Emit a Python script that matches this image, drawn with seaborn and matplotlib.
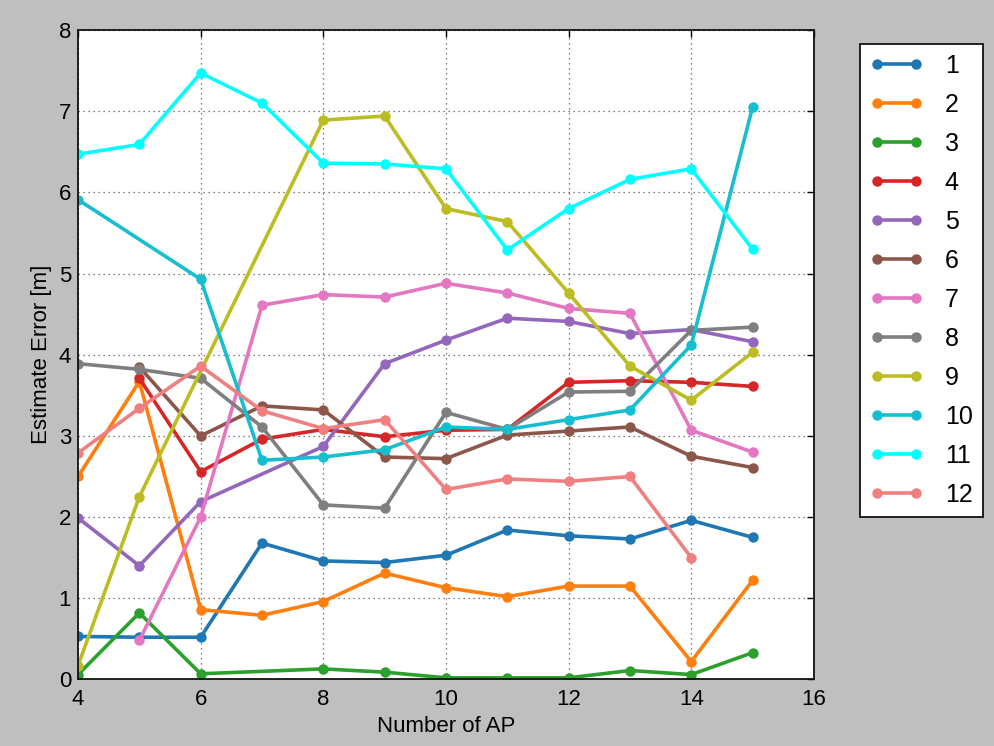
import numpy as np
import pandas as pd
import matplotlib
matplotlib.use("Agg")
import matplotlib.pyplot as plt
import seaborn as sns

# Number of access points used for each estimate
ap_counts = [4, 5, 6, 7, 8, 9, 10, 11, 12, 13, 14, 15]

# Estimate error [m] per run; None where a run has no sample
s1 = [0.53, 0.52, 0.52, 1.68, 1.46, 1.44, 1.53, 1.84, 1.77, 1.73, 1.96, 1.75]
s2 = [2.50, 3.67, 0.86, 0.79, 0.96, 1.31, 1.13, 1.02, 1.15, 1.15, 0.22, 1.22]
s3 = [0.06, 0.82, 0.07, None, 0.13, 0.09, 0.02, 0.02, 0.02, 0.11, 0.06, 0.33]
s4 = [None, 3.71, 2.56, 2.96, 3.08, 2.99, 3.07, 3.08, 3.66, 3.68, 3.66, 3.61]
s5 = [1.99, 1.40, 2.19, None, 2.87, 3.89, 4.18, 4.45, 4.41, 4.26, 4.31, 4.16]
s6 = [None, 3.85, 3.00, 3.37, 3.32, 2.74, 2.72, 3.01, 3.06, 3.11, 2.75, 2.61]
s7 = [None, 0.48, 2.00, 4.61, 4.74, 4.71, 4.88, 4.76, 4.57, 4.51, 3.07, 2.80]
s8 = [3.89, 3.82, 3.71, 3.11, 2.15, 2.11, 3.29, 3.08, 3.54, 3.55, 4.30, 4.34]
s9 = [0.17, 2.25, None, None, 6.89, 6.94, 5.80, 5.64, 4.76, 3.86, 3.44, 4.03]
s10 = [5.91, None, 4.93, 2.70, 2.74, 2.83, 3.11, 3.08, 3.20, 3.32, 4.12, 7.05]
s11 = [6.47, 6.59, 7.47, 7.10, 6.36, 6.35, 6.29, 5.29, 5.80, 6.16, 6.29, 5.30]
s12 = [2.79, 3.34, 3.86, 3.31, 3.09, 3.20, 2.34, 2.47, 2.44, 2.50, 1.50, None]

series_names = ["1", "2", "3", "4", "5", "6", "7", "8", "9", "10", "11", "12"]
series_values = [s1, s2, s3, s4, s5, s6, s7, s8, s9, s10, s11, s12]

colors = ["#1f77b4", "#ff7f0e", "#2ca02c", "#d62728", "#9467bd", "#8c564b",
          "#e377c2", "#7f7f7f", "#bcbd22", "#17becf", "#00ffff", "#f08080"]

rows = []
for name, vals in zip(series_names, series_values):
    for x, v in zip(ap_counts, vals):
        if v is not None:
            rows.append({"ap": x, "err": v, "run": name})
df = pd.DataFrame(rows)

sns.set_style("white")
plt.rcParams["font.family"] = ["Liberation Sans", "DejaVu Sans"]
plt.rcParams["text.color"] = "black"
plt.rcParams["axes.labelcolor"] = "black"
plt.rcParams["xtick.color"] = "black"
plt.rcParams["ytick.color"] = "black"

fig = plt.figure(figsize=(9.95, 7.46), dpi=100, facecolor="#bfbfbf")
ax = fig.add_axes([0.0784, 0.0892, 0.7396, 0.8706])
ax.set_facecolor("white")

sns.lineplot(data=df, x="ap", y="err", hue="run", hue_order=series_names,
             palette=colors, marker="o", markersize=7.5, markeredgewidth=0,
             linewidth=2.6, errorbar=None, legend=False, ax=ax)

ax.set_xlim(4, 16)
ax.set_ylim(0, 8)
ax.set_xticks(range(4, 17, 2))
ax.set_yticks(range(0, 9))
ax.grid(True, linestyle=(0, (1, 3)), color="#555555", linewidth=0.9)
ax.tick_params(direction="in", top=True, right=True, length=5, width=1,
               labelsize=16, color="black", labelcolor="black")
ax.tick_params(axis="x", pad=7)
ax.tick_params(axis="y", pad=5)
for sp in ax.spines.values():
    sp.set_visible(True)
    sp.set_color("#111111")
    sp.set_linewidth(1.3)

ax.set_xlabel("Number of AP", fontsize=16, labelpad=4)
ax.set_ylabel("Estimate Error [m]", fontsize=16, labelpad=5)

handles = ax.lines[:len(series_names)]
leg = fig.legend(handles, series_names, loc="upper left",
                 bbox_to_anchor=(0.864, 0.941), borderaxespad=0,
                 numpoints=2, fontsize=18, frameon=True, fancybox=False,
                 framealpha=1, edgecolor="#111111", handlelength=2.14,
                 labelspacing=0.6, borderpad=0.4, handletextpad=0.86)
leg.get_frame().set_linewidth(1.3)
leg.get_frame().set_facecolor("white")

fig.savefig("out.png", dpi=100, facecolor=fig.get_facecolor())
